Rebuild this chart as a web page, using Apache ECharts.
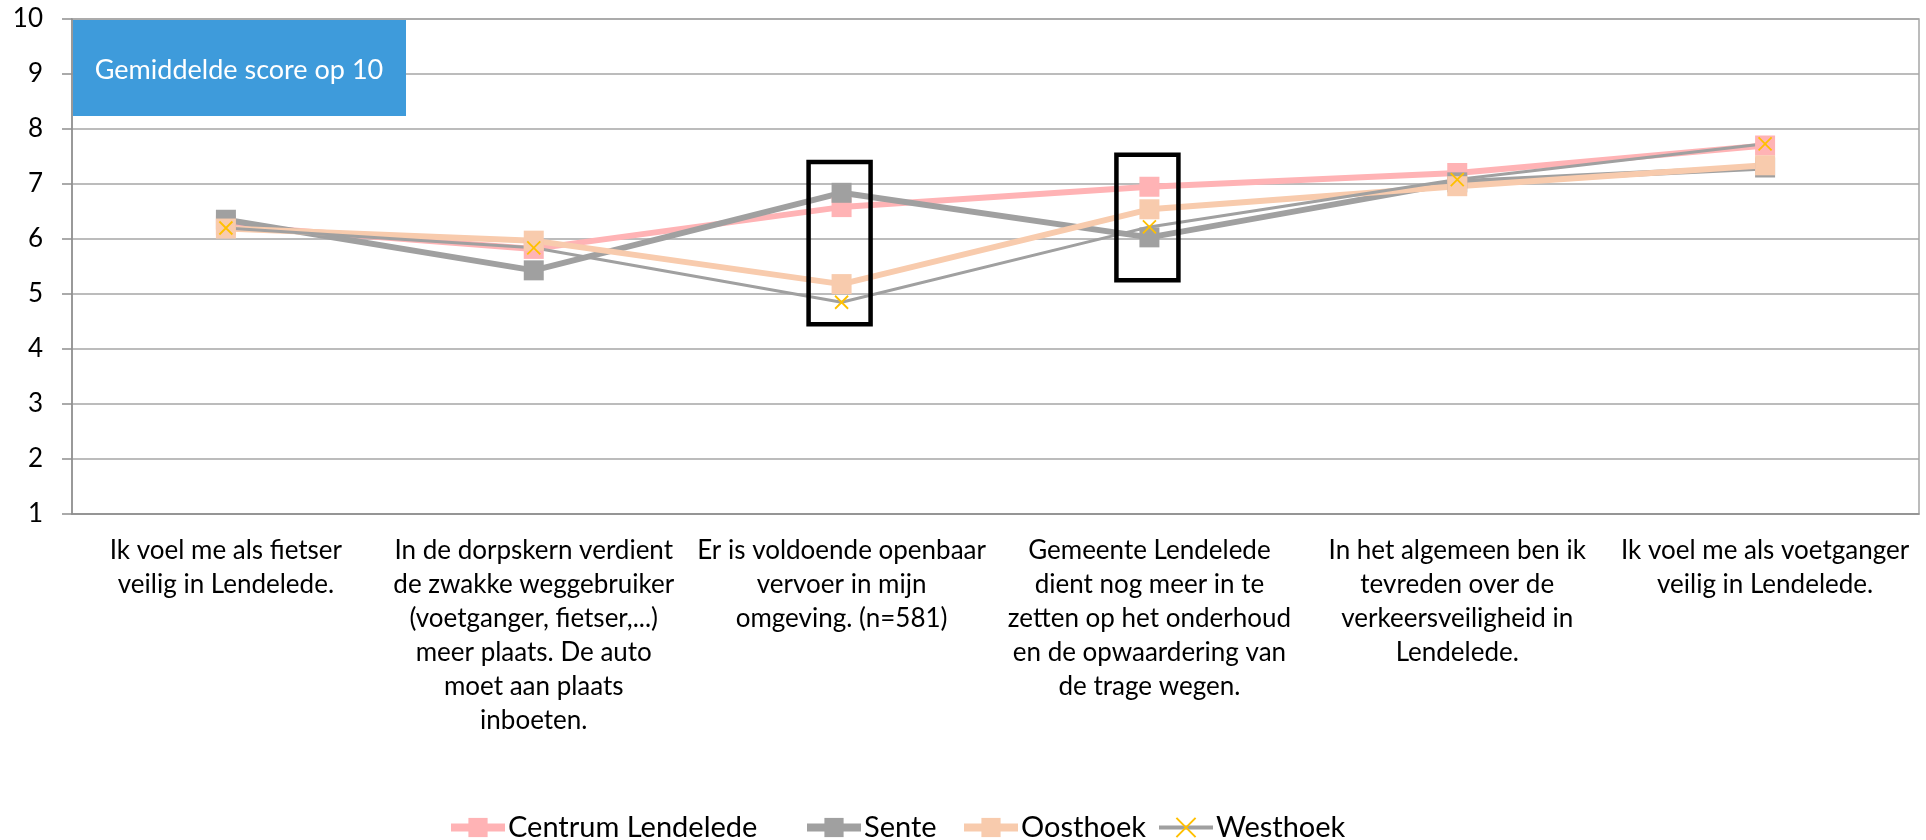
<!DOCTYPE html>
<html>
<head>
<meta charset="utf-8">
<script src="https://cdn.jsdelivr.net/npm/echarts@6/dist/echarts.min.js"></script>
<style>
  html, body { margin: 0; padding: 0; background: #fff; }
  #chart { width: 1926px; height: 840px; }
</style>
</head>
<body>
<div id="chart"></div>
<script>
// Gemiddelde score op 10 per deelgemeente — line chart with two highlight boxes.
const categories = [
  'Ik voel me als fietser\nveilig in Lendelede.',
  'In de dorpskern verdient\nde zwakke weggebruiker\n(voetganger, fietser,...)\nmeer plaats. De auto\nmoet aan plaats\ninboeten.',
  'Er is voldoende openbaar\nvervoer in mijn\nomgeving. (n=581)',
  'Gemeente Lendelede\ndient nog meer in te\nzetten op het onderhoud\nen de opwaardering van\nde trage wegen.',
  'In het algemeen ben ik\ntevreden over de\nverkeersveiligheid in\nLendelede.',
  'Ik voel me als voetganger\nveilig in Lendelede.'
];
const seriesNames = ['Centrum Lendelede', 'Sente', 'Oosthoek', 'Westhoek'];
const centrum = [6.25, 5.82, 6.58, 6.95, 7.2, 7.7];
const sente = [6.35, 5.43, 6.84, 6.03, 7.03, 7.3];
const oosthoek = [6.19, 5.97, 5.18, 6.54, 6.96, 7.34];
const westhoek = [6.2, 5.84, 4.85, 6.22, 7.08, 7.73];
const yTicks = { min: 1, max: 10, step: 1 };

// highlight boxes: [category index, top value, bottom value]
const boxes = [[2, 7.4, 4.45], [3, 7.53, 5.25]];

const FONT = 'Lato';
const X_MARK = 'path://M0,0L10,10M10,0L0,10';

const chart = echarts.init(document.getElementById('chart'));

const squareSeries = (name, data, color) => ({
  name, type: 'line', data,
  symbol: 'rect', symbolSize: 20,
  lineStyle: { color, width: 6 },
  itemStyle: { color },
  emphasis: { disabled: true },
});

// Excel spaces the legend entries unevenly, so one legend per entry.
const legendLeft = [447, 803, 960, 1157];
const legendLine = [8, 8, 8, 4];
const legends = seriesNames.map((name, i) => ({
  left: legendLeft[i], top: 813, padding: 0, itemWidth: 54, itemHeight: 24,
  textStyle: { fontSize: 29, color: '#000', fontFamily: FONT, padding: [0, 0, 0, -2] },
  data: [{ name, lineStyle: { width: legendLine[i] } }],
}));

chart.setOption({
  animation: false,
  textStyle: { fontFamily: FONT },
  grid: { left: 72, right: 7, top: 19, bottom: 326, show: true, borderColor: '#A6A6A6', borderWidth: 1.5 },
  xAxis: {
    type: 'category', data: categories, boundaryGap: true,
    axisLine: { lineStyle: { color: '#8E8E8E', width: 1.5 } },
    axisTick: { length: 10, lineStyle: { color: '#8E8E8E', width: 1.5 } },
    axisLabel: { interval: 0, color: '#000', fontSize: 26, lineHeight: 34, margin: 20, fontFamily: FONT },
  },
  yAxis: {
    type: 'value', min: yTicks.min, max: yTicks.max, interval: yTicks.step,
    axisLine: { show: true, lineStyle: { color: '#8E8E8E', width: 1.5 } },
    axisTick: { show: true, length: 10, lineStyle: { color: '#8E8E8E', width: 1.5 } },
    axisLabel: { color: '#000', fontSize: 26, margin: 29, fontFamily: FONT },
    splitLine: { lineStyle: { color: '#A6A6A6', width: 1.5 } },
  },
  legend: legends,
  series: [
    squareSeries(seriesNames[0], centrum, '#FFB3B5'),
    squareSeries(seriesNames[1], sente, '#A0A0A0'),
    squareSeries(seriesNames[2], oosthoek, '#F8CBAD'),
    {
      name: seriesNames[3], type: 'line', data: westhoek,
      symbol: X_MARK, symbolSize: 13,
      lineStyle: { color: '#A0A0A0', width: 3 },
      itemStyle: { color: '#FFC000', borderColor: '#FFC000', borderWidth: 1.8 },
      emphasis: { disabled: true },
    },
  ],
});

// Title badge in the top-left corner of the plot, highlight boxes placed through the axes' scales.
const graphics = [{
  type: 'group', x: 73, y: 20,
  children: [
    { type: 'rect', shape: { x: 0, y: 0, width: 333, height: 96 }, style: { fill: '#3E9BDB' } },
    { type: 'text', x: 166, y: 50, style: { text: 'Gemiddelde score op 10', fill: '#fff', font: '27px ' + FONT, align: 'center', verticalAlign: 'middle' } },
  ],
}];
boxes.forEach(([ci, top, bottom]) => {
  const p1 = chart.convertToPixel({ gridIndex: 0 }, [ci, top]);
  const p2 = chart.convertToPixel({ gridIndex: 0 }, [ci, bottom]);
  graphics.push({
    type: 'rect',
    shape: { x: p1[0] - 33, y: p1[1], width: 62, height: p2[1] - p1[1] },
    style: { fill: 'none', stroke: '#000', lineWidth: 4.5 },
    z: 10,
  });
});
chart.setOption({ graphic: graphics });
</script>
</body>
</html>
